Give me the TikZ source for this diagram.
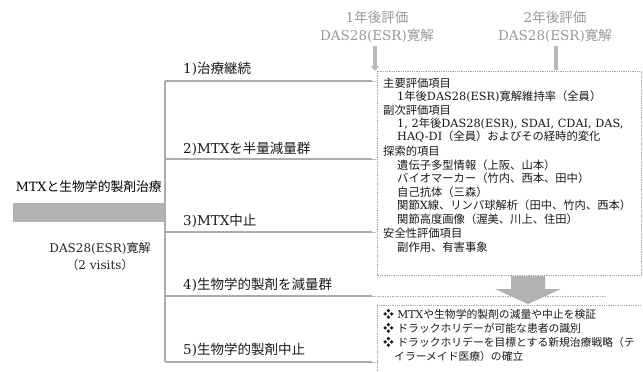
\documentclass[tikz,border=0pt]{standalone}
\usepackage{fontspec}
\setmainfont{DejaVu Serif}
\newfontfamily\cjk{Noto Sans CJK JP}
\newfontfamily\latn{DejaVu Serif}
\XeTeXinterchartokenstate=1
\newXeTeXintercharclass\cjkcls
\newcount\cc
\cc="3000
\loop \XeTeXcharclass\cc=\cjkcls \advance\cc by 1 \ifnum\cc<"A000 \repeat
\cc="FF00
\loop \XeTeXcharclass\cc=\cjkcls \advance\cc by 1 \ifnum\cc<"FFF0 \repeat
\XeTeXcharclass"2756=\cjkcls
\XeTeXinterchartoks 0 \cjkcls={\cjk}
\XeTeXinterchartoks 4095 \cjkcls={\cjk}
\XeTeXinterchartoks \cjkcls 0={\latn}
\XeTeXinterchartoks \cjkcls 4095={\latn}
\usetikzlibrary{arrows.meta}
\tikzset{
  branch/.style={draw=gray!65, line width=1.1pt},
  tail/.style={draw=gray!65, line width=0.9pt, dash pattern=on 1.5pt off 1pt},
  dotbox/.style={draw=gray!70, line width=0.7pt, dash pattern=on 1pt off 0.8pt},
  txt/.style={anchor=west, inner sep=0pt, font=\fontsize{11.3}{12}\selectfont, text=black!90},
  btxt/.style={anchor=west, inner sep=0pt, font=\fontsize{10.8}{12}\selectfont, text=black!90},
  lab/.style={anchor=west, inner sep=0pt, font=\fontsize{13.5}{14}\selectfont, text=black!90},
  toplab/.style={inner sep=0pt, font=\fontsize{13.5}{15}\selectfont, text=gray!80},
}
\begin{document}
\begin{tikzpicture}[x=1pt,y=-1pt]
\useasboundingbox (0,0) rectangle (643,372);
% top labels
\node[toplab] (t1a) at (377,17) {1年後評価};
\node[toplab] (t1b) at (377,36) {DAS28(ESR)寛解};
\node[toplab] (t2a) at (555,17) {2年後評価};
\node[toplab] (t2b) at (555,36) {DAS28(ESR)寛解};
% left part
\node[anchor=east, inner sep=0pt, font=\fontsize{12.8}{13}\selectfont] (start) at (162,187) {MTXと生物学的製剤治療};
\fill[gray!60] (13,203) rectangle (165,222);
\node[inner sep=0pt, font=\fontsize{12}{13}\selectfont, text=black!85] (rem) at (100,248) {DAS28(ESR)寛解};
\node[inner sep=0pt, font=\fontsize{12}{13}\selectfont, text=black!85] (vis) at (100,265) {（2 visits）};
% coordinates
\coordinate (v1) at (165,81);
\coordinate (v2) at (165,159);
\coordinate (v3) at (165,232);
\coordinate (v4) at (165,296);
\coordinate (v5) at (165,362);
\coordinate (e1) at (372,81);
\coordinate (e2) at (372,159);
\coordinate (e3) at (372,232);
\coordinate (e4) at (372,296);
\coordinate (e5) at (372,362);
\coordinate (f1) at (378,81);
\coordinate (f2) at (378,159);
\coordinate (f3) at (378,232);
\coordinate (f4) at (605,296);
\coordinate (f5) at (378,362);
\draw[branch] (v1) -- (v5);
\foreach \i in {1,...,5} { \draw[branch] (v\i) -- (e\i); \draw[tail] (e\i) -- (f\i); }
% branch labels
\node[lab] (b1) at (183,69) {1)治療継続};
\node[lab] (b2) at (183,149) {2)MTXを半量減量群};
\node[lab] (b3) at (183,221) {3)MTX中止};
\node[lab] (b4) at (183,285) {4)生物学的製剤を減量群};
\node[lab] (b5) at (183,350) {5)生物学的製剤中止};
% boxes
\draw[dotbox, fill=white] (377,71) rectangle (641,275);
\draw[dotbox] (641,372) -- (377,372) -- (377,305) -- (641,305);
% small arrows
\draw[gray!55, line width=3.5pt, -{Triangle[length=5pt,width=8pt]}] (375,46) -- (375,71);
\draw[gray!55, line width=3.5pt] (556,46) -- (556,70);
% big arrow
\fill[gray!60] (511,276) -- (545,276) -- (545,289) -- (561,289) -- (528,304) -- (495,289) -- (511,289) -- cycle;
% upper box text
\node[txt] (u1) at (383,83) {主要評価項目};
\node[txt] (u2) at (397,97) {1年後DAS28(ESR)寛解維持率（全員）};
\node[txt] (u3) at (383,110) {副次評価項目};
\node[txt] (u4) at (397,124) {1, 2年後DAS28(ESR), SDAI, CDAI, DAS,};
\node[txt] (u5) at (397,137) {HAQ-DI（全員）およびその経時的変化};
\node[txt] (u6) at (383,151) {探索的項目};
\node[txt] (u7) at (397,165) {遺伝子多型情報（上阪、山本）};
\node[txt] (u8) at (397,178) {バイオマーカー（竹内、西本、田中）};
\node[txt] (u9) at (397,192) {自己抗体（三森）};
\node[txt] (u10) at (397,205) {関節X線、リンパ球解析（田中、竹内、西本）};
\node[txt] (u11) at (397,219) {関節高度画像（渥美、川上、住田）};
\node[txt] (u12) at (383,233) {安全性評価項目};
\node[txt] (u13) at (397,247) {副作用、有害事象};
% lower box text
\node[btxt] (l1) at (383,314) {❖ MTXや生物学的製剤の減量や中止を検証};
\node[btxt] (l2) at (383,328) {❖ ドラックホリデーが可能な患者の識別};
\node[btxt] (l3) at (383,342) {❖ ドラックホリデーを目標とする新規治療戦略（テ};
\node[btxt] (l4) at (394,356) {イラーメイド医療）の確立};
\end{tikzpicture}
\end{document}
